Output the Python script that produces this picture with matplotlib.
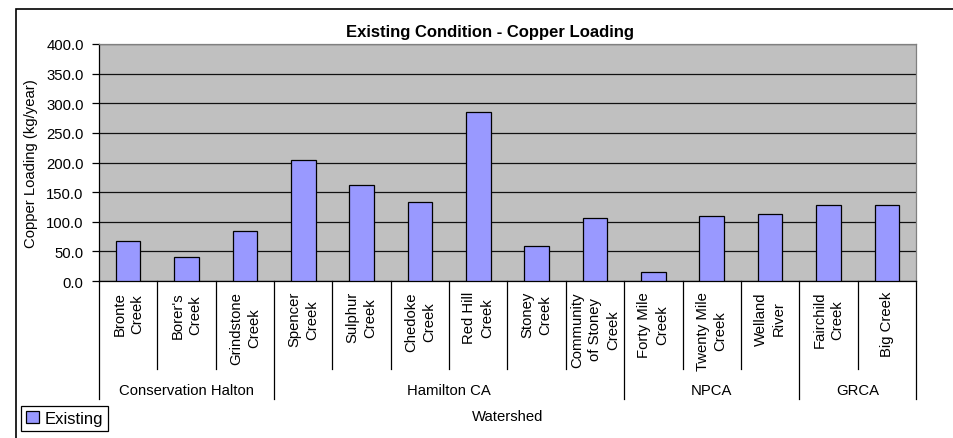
import matplotlib
matplotlib.use("Agg")
import matplotlib.pyplot as plt
from matplotlib.patches import Rectangle, Patch
from matplotlib.transforms import blended_transform_factory

plt.rcParams['font.family'] = ['Liberation Sans', 'DejaVu Sans']

# Data
creeks = ["Bronte\nCreek", "Borer's\nCreek", "Grindstone\nCreek",
          "Spencer\nCreek", "Sulphur\nCreek", "Chedoke\nCreek", "Red Hill\nCreek",
          "Stoney\nCreek", "Community\nof Stoney\nCreek",
          "Forty Mile\nCreek", "Twenty Mile\nCreek", "Welland\nRiver",
          "Fairchild\nCreek", "Big Creek"]
existing = [67, 40, 85, 204, 162, 134, 285, 59, 107, 15, 110, 113, 129, 129]
groups = ["Conservation Halton", "Hamilton CA", "NPCA", "GRCA"]
group_sizes = [3, 6, 3, 2]
yticks = [0, 50, 100, 150, 200, 250, 300, 350, 400]

W, H = 954, 439
fig = plt.figure(figsize=(W / 100, H / 100), dpi=100)
fig.patch.set_facecolor('white')

# Outer chart frame
fig.patches.append(Rectangle((16 / W, -0.1), 1.2, 1 - 10 / H + 0.1,
                             transform=fig.transFigure, fill=False,
                             edgecolor='black', lw=1.2))

ax = fig.add_axes([99 / W, 1 - 282 / H, (916 - 99) / W, (282 - 45) / H])
ax.set_facecolor('#C0C0C0')

x = list(range(len(creeks)))
ax.bar(x, existing, width=0.42, color='#9999FF', edgecolor='black',
       linewidth=0.9, zorder=3)

ax.set_xlim(-0.5, len(creeks) - 0.5)
ax.set_ylim(0, 400)
ax.set_yticks(yticks)
ax.set_yticklabels([f"{v:.1f}" for v in yticks], fontsize=10.7)
ax.yaxis.grid(True, color='#111111', lw=0.9)
ax.set_axisbelow(True)
ax.tick_params(axis='y', direction='out', length=5, width=0.9, pad=6)
ax.set_xticks([])

for s in ['top', 'right']:
    ax.spines[s].set_color('#808080')
    ax.spines[s].set_linewidth(0.9)
for s in ['left', 'bottom']:
    ax.spines[s].set_color('black')
    ax.spines[s].set_linewidth(0.9)

ax.set_ylabel("Copper Loading (kg/year)", fontsize=10.7, labelpad=6)

trans = blended_transform_factory(ax.transData, ax.transAxes)
ph = 282 - 45

# Category labels
for i, lab in enumerate(creeks):
    ax.text(i, -10 / ph, lab, transform=trans, rotation=90, ha='center',
            va='top', multialignment='center', fontsize=10.7,
            linespacing=1.35, clip_on=False)

# Category separators
bounds = []
acc = 0
for n in group_sizes:
    bounds.append(acc)
    acc += n
bounds.append(acc)
for b in range(len(creeks) + 1):
    depth = 118 / ph if b in bounds else 88 / ph
    ax.plot([b - 0.5, b - 0.5], [0, -depth], transform=trans, color='black',
            lw=0.9, clip_on=False)

# Group labels
for g, start, n in zip(groups, bounds[:-1], group_sizes):
    ax.text(start + (n - 1) / 2, -109 / ph, g, transform=trans, ha='center',
            va='center', fontsize=10.7, clip_on=False)

fig.text((99 + 916) / 2 / W, 1 - 417 / H, "Watershed", ha='center',
         va='center', fontsize=10.7)

fig.text(490 / W, 1 - 33 / H, "Existing Condition - Copper Loading",
         ha='center', va='center', fontsize=12, fontweight='bold')

leg = fig.legend(handles=[Patch(facecolor='#9999FF', edgecolor='black',
                                lw=0.9, label='Existing')],
                 loc='upper left', bbox_to_anchor=(21 / W, 1 - 407 / H),
                 borderaxespad=0, fancybox=False, edgecolor='black',
                 framealpha=1, fontsize=12, handlelength=0.75,
                 handleheight=0.75, handletextpad=0.35, borderpad=0.3)
leg.get_frame().set_linewidth(0.9)

fig.savefig("out.png", dpi=100)
